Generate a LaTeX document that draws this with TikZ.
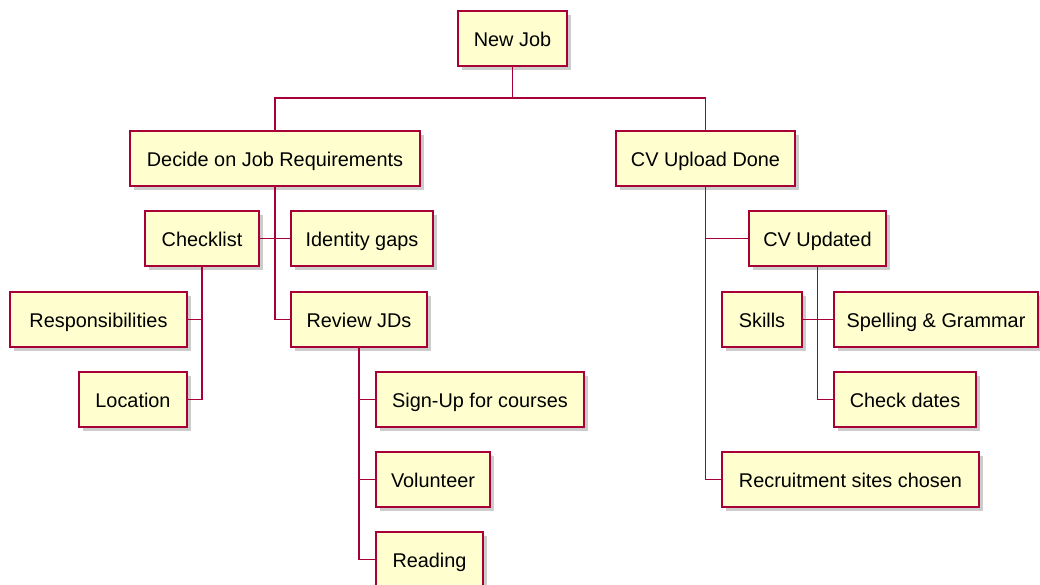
\documentclass[tikz,border=0pt]{standalone}
\usepackage{fontspec}
\setmainfont{Liberation Sans}
\usetikzlibrary{shadows}
\definecolor{boxfill}{HTML}{FEFECE}
\definecolor{boxline}{HTML}{A80036}
\begin{document}
\begin{tikzpicture}[x=0.75pt,y=-0.75pt,
  wbs/.style={draw=boxline, line width=1.2pt, fill=boxfill, rectangle, inner sep=0pt,
    minimum height=41.25pt, minimum width=#1*0.75pt, text=black,
    text height=12pt, text depth=0pt,
    font=\fontsize{14.9pt}{16pt}\selectfont,
    drop shadow={shadow xshift=3pt, shadow yshift=-3pt, fill=black, opacity=0.2}},
  link/.style={draw=boxline, line width=1pt}]
\useasboundingbox (0,0) rectangle (1040,585);
\fill[white] (0,0) rectangle (1040,585);

\node[wbs=109] (newjob) at (512.5,38.5) {New Job};
\node[wbs=290] (decide) at (275,158.5) {Decide on Job Requirements};
\node[wbs=179] (cvup) at (705.5,158.5) {CV Upload Done};
\node[wbs=114] (checklist) at (202,238.5) {Checklist};
\node[wbs=142] (identity) at (362,238.5) {Identity gaps};
\node[wbs=136] (review) at (359,319.5) {Review JDs};
\node[wbs=177] (resp) at (98.5,319.5) {Responsibilities};
\node[wbs=108] (location) at (133,399.5) {Location};
\node[wbs=208] (signup) at (480,399.5) {Sign-Up for courses};
\node[wbs=114] (volunteer) at (433,479.5) {Volunteer};
\node[wbs=107] (reading) at (429.5,559.5) {Reading};
\node[wbs=137] (cvupd) at (817.5,238.5) {CV Updated};
\node[wbs=80] (skills) at (762,319.5) {Skills};
\node[wbs=204] (spelling) at (936,319.5) {Spelling \& Grammar};
\node[wbs=142] (checkdates) at (905,399.5) {Check dates};
\node[wbs=257] (recruit) at (850.5,479.5) {Recruitment sites chosen};

\coordinate (bar) at (0,98);
\draw[link] (newjob.south) -- (newjob.south |- bar) -| (decide.north);
\draw[link] (newjob.south |- bar) -| (cvup.north);
\draw[link] (decide.south) |- (review.west);
\draw[link] (checklist.east) -- (identity.west);
\draw[link] (checklist.south) |- (resp.east);
\draw[link] (checklist.south) |- (location.east);
\draw[link] (review.south) |- (signup.west);
\draw[link] (review.south) |- (volunteer.west);
\draw[link] (review.south) |- (reading.west);
\draw[link] (cvup.south) |- (cvupd.west);
\draw[link] (cvup.south) |- (recruit.west);
\draw[link] (cvupd.south) |- (checkdates.west);
\draw[link] (skills.east) -- (spelling.west);
\end{tikzpicture}
\end{document}
